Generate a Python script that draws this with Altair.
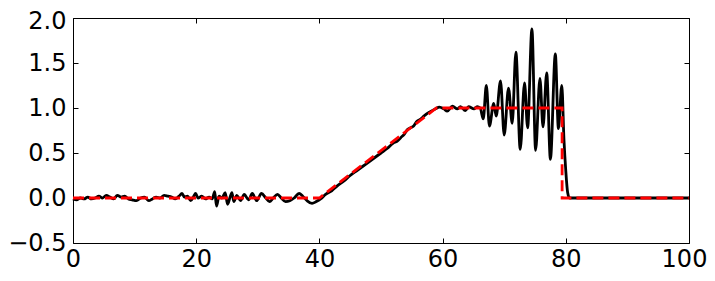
import altair as alt
import pandas as pd

# Black (computed) curve
bx = [0.0, 0.6, 1.2, 1.8, 2.4, 3.0, 3.6, 4.2, 4.8, 5.4, 6.0, 6.6, 7.2, 7.8, 8.4, 9.0, 9.6, 10.3, 11.0, 11.6,
      12.3, 12.9, 13.5, 14.1, 14.8, 15.4, 16.0, 16.6, 17.2, 17.7, 18.1, 18.6, 19.1, 19.6, 19.9,
      20.3, 20.9, 21.5, 22.1, 22.6, 23.0, 23.3, 23.7, 24.2, 24.7, 25.1, 25.5, 25.8, 26.1, 26.6, 27.2,
      27.8, 28.5, 29.1, 29.8, 30.6, 31.3, 31.9, 32.5, 33.2, 33.8, 34.5, 35.2, 35.9, 36.7, 37.3, 38.0,
      38.8, 39.5, 40.2, 41.0,
      42.0, 43.0, 44.0, 45.0, 46.0, 47.0, 48.0, 49.0, 50.0, 51.0, 52.0, 52.6, 53.2, 53.8, 54.3, 54.8,
      55.3, 55.8, 56.3, 56.8, 57.3, 58.0, 58.8, 59.5,
      60.2, 60.75, 61.6, 62.4, 62.9, 63.7, 64.2, 65.1, 65.6, 66.1,
      66.6, 67.1, 67.6, 68.3, 68.7, 69.4, 70.0, 70.7, 71.3, 71.9, 72.6, 73.3, 73.8, 74.5, 75.1, 75.8,
      76.3, 76.9, 77.5, 78.3, 78.8, 79.35, 79.7, 80.0, 80.3, 80.6, 81.5, 85.0, 90.0, 95.0, 100.0]
by = [-0.01, -0.02, 0.00, -0.01, 0.01, -0.01, 0.00, 0.02, 0.00, 0.03, 0.01, -0.01, 0.03, 0.01, 0.02, -0.01, -0.02, -0.03, 0.00, 0.01,
      -0.03, -0.01, 0.01, 0.00, 0.03, 0.02, 0.01, -0.01, 0.02, 0.05, 0.01, 0.02, -0.03, 0.02, 0.05,
      0.00, 0.02, -0.01, 0.01, -0.01, 0.07, -0.09, 0.02, 0.00, 0.06, -0.07, 0.01, 0.06, -0.04, 0.03, -0.03,
      0.04, -0.02, 0.05, -0.03, 0.05, 0.00, -0.04, 0.00, 0.04, 0.00, -0.04, -0.03, 0.00, 0.05, 0.02, -0.03,
      -0.06, -0.04, -0.01, 0.04,
      0.08, 0.14, 0.19, 0.25, 0.30, 0.35, 0.40, 0.45, 0.50, 0.55, 0.61, 0.63, 0.67, 0.71, 0.76, 0.78,
      0.80, 0.85, 0.87, 0.90, 0.93, 0.96, 0.99, 1.01,
      0.99, 0.965, 1.02, 0.99, 1.015, 0.97, 1.015, 0.99, 1.015, 1.00,
      0.88, 1.25, 0.80, 1.05, 0.91, 1.30, 0.70, 1.22, 0.83, 1.62, 0.54, 1.28, 0.78, 1.88, 0.53, 1.33,
      0.79, 1.39, 0.43, 1.60, 0.77, 1.25, 0.65, 0.30, 0.06, 0.00, 0.00, 0.00, 0.00, 0.00, 0.00]

# Red dashed (exact) profile
rx = [0, 40, 59, 79.4, 79.4, 100]
ry = [0, 0, 1, 1, 0, 0]

x_ticks = [0, 20, 40, 60, 80, 100]
y_ticks = [-0.5, 0.0, 0.5, 1.0, 1.5, 2.0]

black = pd.DataFrame({"x": bx, "y": by})
red = pd.DataFrame({"x": rx, "y": ry, "i": list(range(len(rx)))})

FONT = "DejaVu Sans"
FS = 24

xscale = alt.Scale(domain=[0, 100], nice=False, zero=False)
yscale = alt.Scale(domain=[-0.5, 2.0], nice=False, zero=False)

common = dict(offset=-5, tickSize=5, domain=False, grid=False, title=None,
              tickColor="black", tickWidth=1, labelColor="black",
              labelFont=FONT, labelFontSize=FS, labelOverlap=False, labelFlush=False)

x_bottom = alt.Axis(values=x_ticks, format="d", orient="bottom", labelPadding=4,
                    labelOffset={"condition": {"test": "datum.value == 100", "value": -5}, "value": 0},
                    **common)
y_left = alt.Axis(values=y_ticks, format=".1f", orient="left", labelPadding=7,
                  labelOffset={"condition": {"test": "datum.value == 2", "value": 3}, "value": 0},
                  **common)
x_top = alt.Axis(values=x_ticks, orient="top", labels=False, **common)
y_right = alt.Axis(values=y_ticks, orient="right", labels=False, **common)

black_line = alt.Chart(black).mark_line(color="black", strokeWidth=2.8, interpolate="monotone").encode(
    x=alt.X("x:Q", scale=xscale, axis=x_bottom),
    y=alt.Y("y:Q", scale=yscale, axis=y_left),
)

red_line = alt.Chart(red).mark_line(color="#ff0000", strokeWidth=2.8, strokeDash=[11, 5]).encode(
    x=alt.X("x:Q", scale=xscale, axis=x_top),
    y=alt.Y("y:Q", scale=yscale, axis=y_right),
    order=alt.Order("i:Q"),
)

chart = alt.layer(black_line, red_line).resolve_axis(
    x="independent", y="independent"
).properties(
    width=616,
    height=225,
    autosize=alt.AutoSizeParams(type="none"),
    padding={"left": 65, "top": 10, "right": 18, "bottom": 30},
    background="white",
).configure_view(stroke="black", strokeWidth=1)

chart.save("out.html", embed_options={"renderer": "svg", "actions": False})
